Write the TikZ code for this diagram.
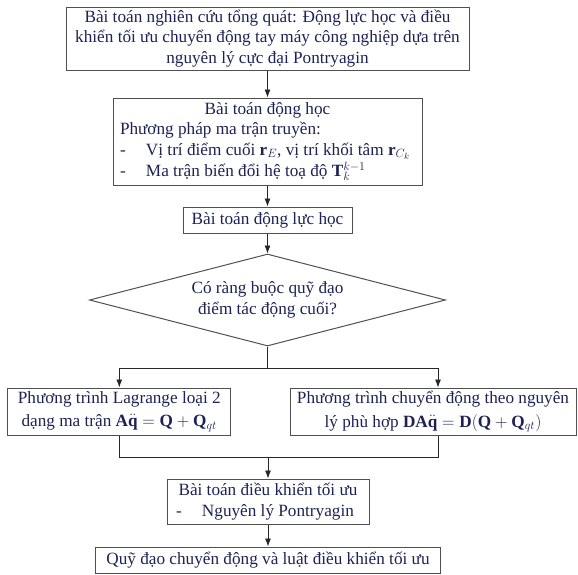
\documentclass[tikz,border=0pt]{standalone}
\usepackage{fontspec}
\setmainfont{Liberation Serif}
\usetikzlibrary{arrows.meta,shapes.geometric}
\definecolor{txt}{RGB}{28,34,84}
\definecolor{edge}{RGB}{80,80,80}
\newcommand\fs{\fontsize{17.2}{20.5}\selectfont}
\begin{document}
\begin{tikzpicture}[x=1pt,y=-1pt,
  box/.style={draw=edge,line width=1pt,text=txt,inner sep=0pt,font=\fs,align=center},
  arr/.style={draw=black!85,line width=0.8pt,-{Latex[length=8pt,width=6pt]}},
  ln/.style={draw=black!85,line width=0.8pt}]
\useasboundingbox (0,0) rectangle (578,574);

\node[box,minimum width=403pt,minimum height=63pt] (top) at (267.5,38.5)
  {Bài toán nghiên cứu tổng quát: Động lực học và điều\\khiển tối ưu chuyển động tay máy công nghiệp dựa trên\\nguyên lý cực đại Pontryagin};

\node[box,minimum width=309pt,minimum height=87pt] (kin) at (267.5,141.5)
  {\parbox{295pt}{\lineskiplimit=1pt\lineskip=2pt\centering Bài toán động học\par\raggedright Phương pháp ma trận truyền:\par
   \makebox[26pt][l]{-}Vị trí điểm cuối $\mathbf{r}_E$, vị trí khối tâm $\mathbf{r}_{C_k}$\par
   \makebox[26pt][l]{-}Ma trận biến đổi hệ toạ độ $\mathbf{T}_k^{k-1}$}};

\node[box,minimum width=169pt,minimum height=26pt] (dyn) at (267.5,220) {Bài toán động lực học};

\node[box,diamond,aspect=3.87,minimum width=356pt,minimum height=92pt] (dia) at (267.5,300)
  {Có ràng buộc quỹ đạo\\điểm tác động cuối?};

\node[box,minimum width=223pt,minimum height=47pt] (lb) at (119.3,411.5)
  {Phương trình Lagrange loại 2\\[3pt]dạng ma trận $\mathbf{A}\ddot{\mathbf{q}}=\mathbf{Q}+\mathbf{Q}_{qt}$};

\node[box,minimum width=286pt,minimum height=47pt] (rb) at (433,411.5)
  {Phương trình chuyển động theo nguyên\\[3pt]lý phù hợp $\mathbf{DA}\ddot{\mathbf{q}}=\mathbf{D}\big(\mathbf{Q}+\mathbf{Q}_{qt}\big)$};

\node[box,minimum width=202pt,minimum height=45pt] (opt) at (268,501.5)
  {\parbox{184pt}{\centering Bài toán điều khiển tối ưu\par\raggedright
   \makebox[26pt][l]{-}Nguyên lý Pontryagin}};

\node[box,minimum width=345pt,minimum height=26pt] (fin) at (268,560)
  {Quỹ đạo chuyển động và luật điều khiển tối ưu};

\coordinate (j1) at (267.5,368.8);
\coordinate (jL) at (119.3,368.8);
\coordinate (jR) at (438,368.8);
\coordinate (k1) at (268,457);
\coordinate (kL) at (119.3,457);
\coordinate (kR) at (438,457);

\draw[arr] (top.south) -- (kin.north);
\draw[arr] (kin.south) -- (dyn.north);
\draw[arr] (dyn.south) -- (dia.north);
\draw[ln] (dia.south) -- (j1);
\draw[arr] (j1) -- (jL) -- (lb.north);
\draw[arr] (j1) -- (jR) -- (jR |- rb.north);
\draw[ln] (lb.south) -- (kL) -- (kR) -- (kR |- rb.south);
\draw[arr] (k1) -- (opt.north);
\draw[arr] (opt.south) -- (fin.north);
\end{tikzpicture}
\end{document}
